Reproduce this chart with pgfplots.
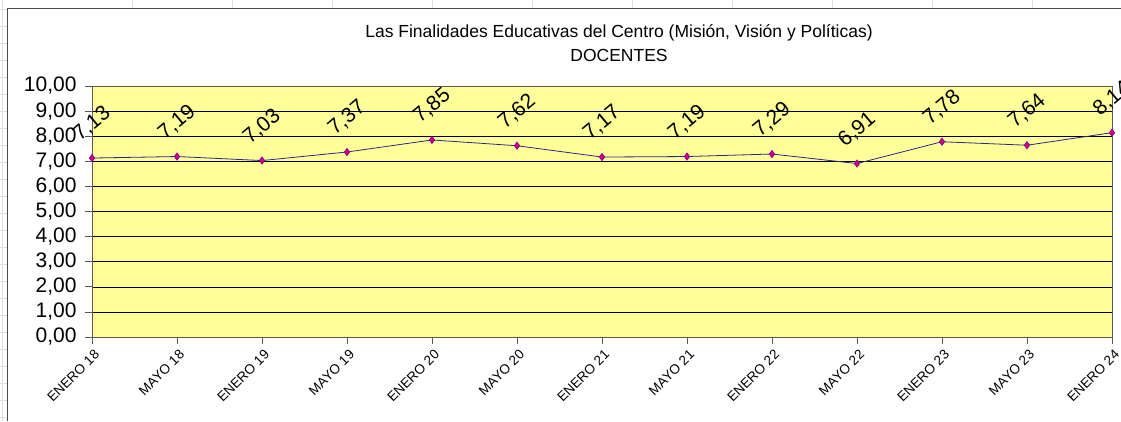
\documentclass[border=0pt]{standalone}
\usepackage{pgfplots}
\pgfplotsset{compat=1.18}
\usepackage{fontspec}
\setmainfont{Liberation Sans}
\definecolor{plotyellow}{RGB}{255,255,153}
\definecolor{linenavy}{RGB}{40,40,140}
\definecolor{markmag}{RGB}{220,0,110}
\begin{document}
\begin{tikzpicture}
\useasboundingbox (-92pt,-84pt) rectangle (1029pt,337pt);
% spreadsheet cells behind the chart
\foreach \k in {0,...,24} {
  \draw[gray!25, line width=0.6pt] (-92pt,{328pt-17pt*\k}) -- (-84pt,{328pt-17pt*\k});
}
\draw[gray!25, line width=0.6pt] (-90pt,-84pt) -- (-90pt,337pt);
\foreach \xx in {40,140,240,340,440,540,640,740,840,940} {
  \draw[gray!25, line width=0.6pt] (\xx pt,328pt) -- (\xx pt,337pt);
}
\draw[gray!60!black, line width=1pt] (-84pt,-84pt) -- (-84pt,328pt) -- (1029pt,328pt);
\begin{axis}[
  scale only axis,
  width=1020pt, height=251pt,
  xmin=0, xmax=12, ymin=0, ymax=10,
  axis background/.style={fill=plotyellow},
  axis line style={gray!70!black, line width=0.8pt},
  xtick={0,...,12},
  xticklabels={ENERO 18, MAYO 18, ENERO 19, MAYO 19, ENERO 20, MAYO 20, ENERO 21, MAYO 21, ENERO 22, MAYO 22, ENERO 23, MAYO 23, ENERO 24},
  x tick label style={font=\fontsize{13.5}{13.5}\selectfont, rotate=45, anchor=north east, xshift=1pt, yshift=-1pt},
  ytick={0,...,10},
  yticklabel={\pgfmathprintnumber[fixed, fixed zerofill, precision=2, use comma]{\tick}},
  y tick label style={font=\fontsize{21}{21}\selectfont, xshift=-5pt},
  /pgf/number format/assume math mode=true,
  tick align=outside,
  major tick length=7pt,
  tick style={gray!70!black, line width=0.8pt},
  xtick pos=bottom, ytick pos=left,
  ymajorgrids,
  grid style={black, line width=0.6pt},
  clip=false,
  nodes near coords,
  point meta=explicit symbolic,
  nodes near coords style={font=\fontsize{21}{21}\selectfont, yshift=34pt, rotate=40, anchor=center, text=black},
]
\addplot[color=linenavy, line width=0.8pt, mark=diamond*, mark size=3.5pt,
  mark options={fill=markmag, draw=markmag!60!blue}]
  table[meta=label] {
x y label
0 7.13 {7,13}
1 7.19 {7,19}
2 7.03 {7,03}
3 7.37 {7,37}
4 7.85 {7,85}
5 7.62 {7,62}
6 7.17 {7,17}
7 7.19 {7,19}
8 7.29 {7,29}
9 6.91 {6,91}
10 7.78 {7,78}
11 7.64 {7,64}
12 8.14 {8,14}
};
\end{axis}
\node[font=\fontsize{17.5}{17.5}\selectfont] at (527pt,304pt) {Las Finalidades Educativas del Centro (Misión, Visión y Políticas)};
\node[font=\fontsize{17.5}{17.5}\selectfont] at (527pt,282pt) {DOCENTES};
\end{tikzpicture}
\end{document}
